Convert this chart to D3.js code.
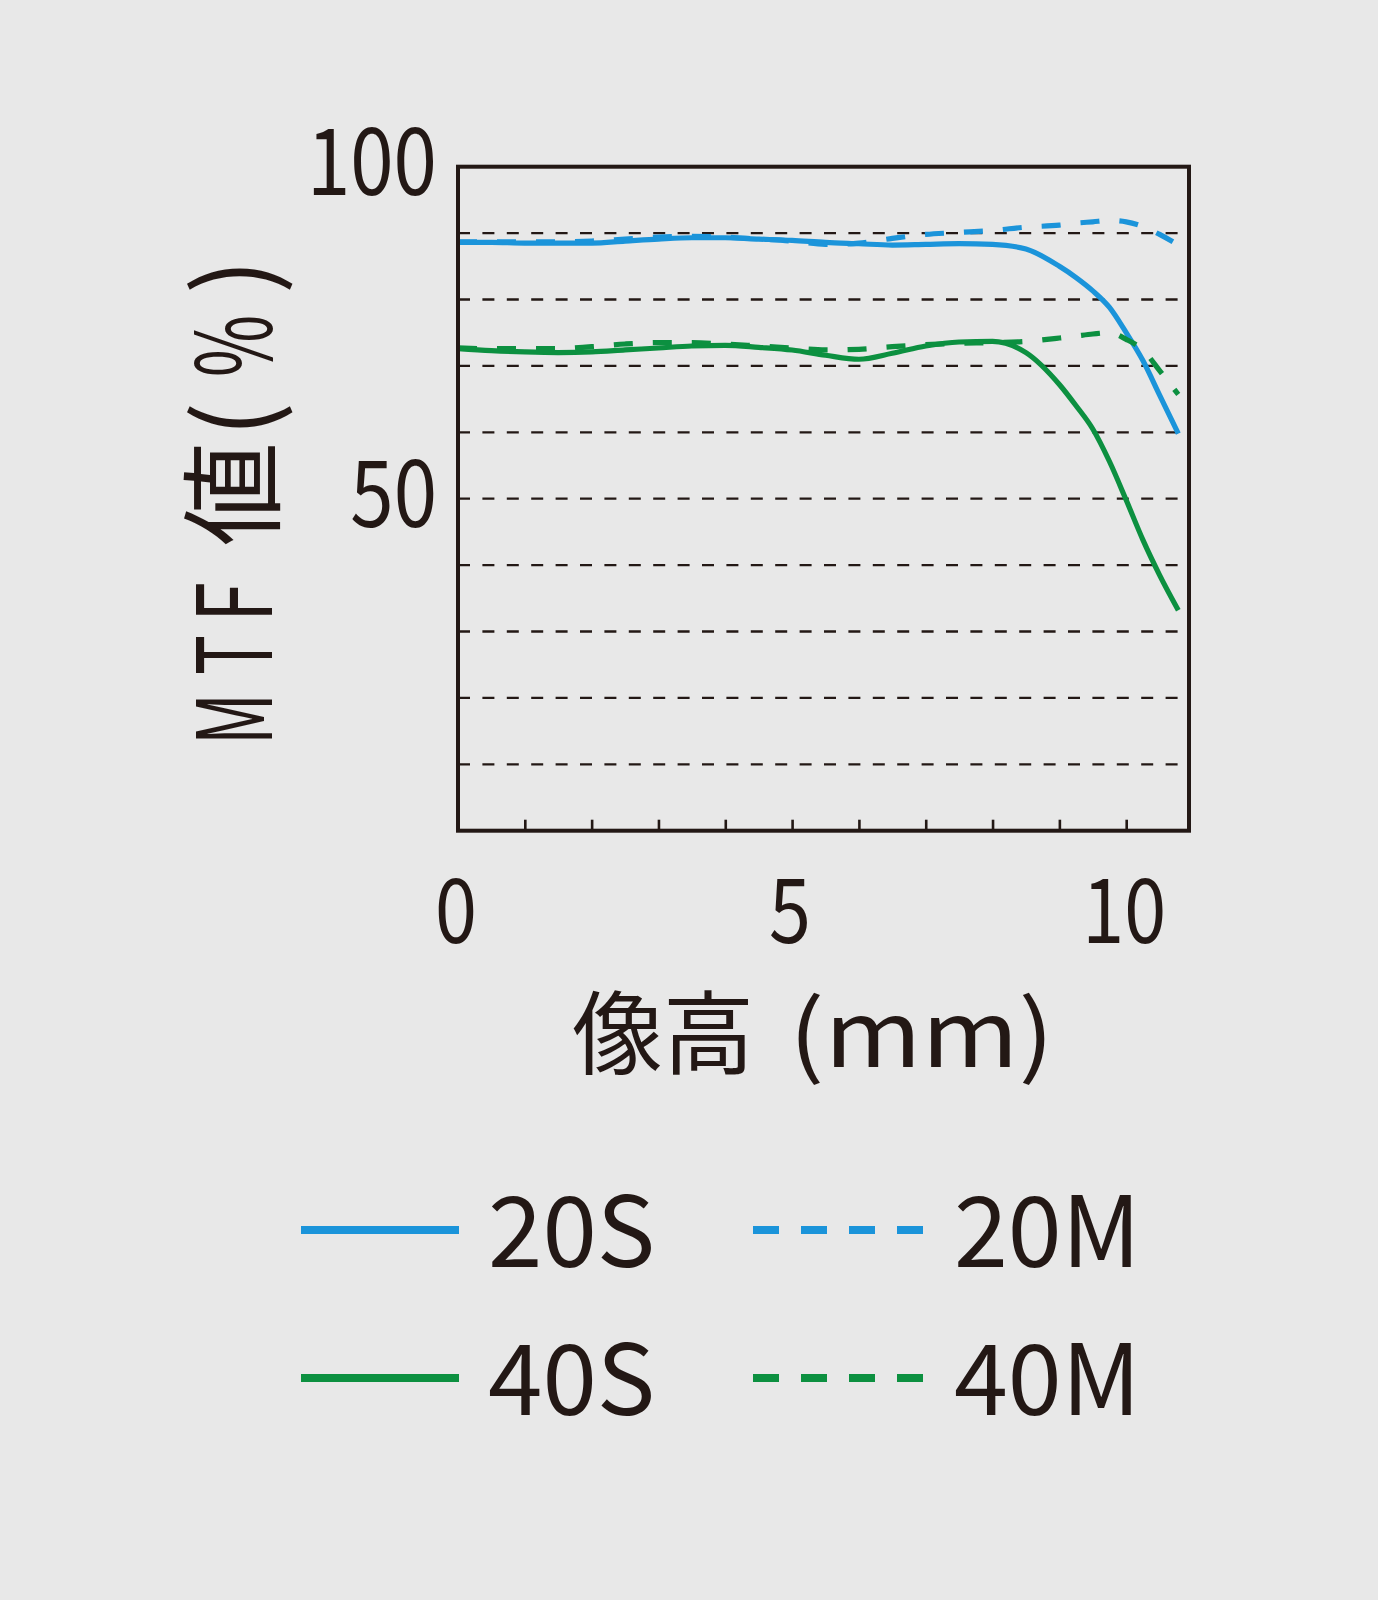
<!DOCTYPE html>
<html><head><meta charset="utf-8">
<script src="https://cdn.jsdelivr.net/npm/d3@7"></script>
<style>
html,body{margin:0;padding:0;background:#e8e8e8;}
svg{display:block;}
text{font-family:"Noto Sans CJK JP","Noto Sans",sans-serif;fill:#231815;}
</style></head><body>
<svg id="c" width="1378" height="1600"></svg>
<script>
// image height (mm)
const imageHeight = [0,0.5,1,1.5,2,2.5,3,3.5,4,4.5,5,5.5,6,6.5,7,7.5,8,8.5,9,9.25,9.5,9.75,10,10.25,10.5,10.78];
// MTF values (%)
const mtf20S = [88.6,88.6,88.5,88.5,88.5,88.8,89.1,89.3,89.3,89.1,88.9,88.6,88.4,88.2,88.3,88.4,88.3,87.6,85.0,83.3,81.3,78.8,75.0,70.8,65.6,59.8];
const mtf20M = [88.7,88.7,88.7,88.7,88.8,89.1,89.4,89.5,89.4,89.1,88.8,88.3,88.5,89.2,89.8,90.1,90.4,90.9,91.2,91.5,91.7,91.9,91.7,91.0,89.8,88.2];
const mtf40S = [72.6,72.3,72.1,72.0,72.1,72.4,72.7,73.0,73.1,72.8,72.4,71.6,71.0,71.9,73.0,73.6,73.7,72.0,67.2,64.0,60.5,55.6,49.8,43.8,38.5,33.2];
const mtf40M = [72.7,72.6,72.6,72.6,72.9,73.3,73.5,73.5,73.3,73.0,72.7,72.4,72.5,72.9,73.2,73.4,73.5,73.7,74.2,74.5,74.8,75.0,74.0,72.4,69.3,65.7];
const seriesNames = ["20S","20M","40S","40M"];
const xTickLabels = [0,5,10];
const xMinorTicks = [1,2,3,4,5,6,7,8,9,10];
const yTickLabels = [50,100];
const gridValues = [10,20,30,40,50,60,70,80,90];
const xAxisTitle = ["像高","(mm)"];
const yAxisTitle = ["M","T","F","値","(","%",")"];

const BLUE = "#1b94da", GREEN = "#0c9040", INK = "#231815";
const series = [
  {name: seriesNames[0], values: mtf20S, color: BLUE, dashed: false},
  {name: seriesNames[1], values: mtf20M, color: BLUE, dashed: true},
  {name: seriesNames[2], values: mtf40S, color: GREEN, dashed: false},
  {name: seriesNames[3], values: mtf40M, color: GREEN, dashed: true}
];

const svg = d3.select("#c");
svg.append("rect").attr("width",1378).attr("height",1600).attr("fill","#e8e8e8");

const x = d3.scaleLinear().domain([0,10.94]).range([458,1189]);
const y = d3.scaleLinear().domain([0,100]).range([830.7,166.7]);

function condense(sel, f){
  sel.each(function(){
    const w = this.getComputedTextLength();
    d3.select(this).attr("textLength", w*f).attr("lengthAdjust","spacingAndGlyphs");
  });
}

// grid
svg.append("g").selectAll("line").data(gridValues).join("line")
  .attr("x1", x(0)).attr("x2", x(10.8))
  .attr("y1", d=>y(d)).attr("y2", d=>y(d))
  .attr("stroke", INK).attr("stroke-width", 2.3).attr("stroke-dasharray","12,12.4");

// minor ticks
const xAxis = d3.axisBottom(x).tickValues(xMinorTicks).tickSize(-11).tickFormat("");
const gx = svg.append("g").attr("transform",`translate(0,${y(0)})`).call(xAxis);
gx.select(".domain").remove();
gx.selectAll(".tick line").attr("stroke",INK).attr("stroke-width",2.6);

// lines
const line = d3.line().x(d=>x(d[0])).y(d=>y(d[1])).curve(d3.curveMonotoneX);
const order = [series[0], series[2], series[1], series[3]];
svg.append("g").selectAll("path").data(order).join("path")
  .attr("d", s => line(imageHeight.map((h,i)=>[h, s.values[i]])))
  .attr("fill","none").attr("stroke", s=>s.color).attr("stroke-width",5.2)
  .attr("stroke-linecap","butt").attr("stroke-linejoin","round")
  .attr("stroke-dasharray", s=> s.dashed ? "19,20" : null);

// frame
svg.append("rect").attr("x",x(0)).attr("y",y(100))
  .attr("width",x(10.94)-x(0)).attr("height",y(0)-y(100))
  .attr("fill","none").attr("stroke",INK).attr("stroke-width",4);

// y tick labels
svg.append("g").selectAll("text").data(yTickLabels).join("text")
  .attr("x",437).attr("y",d=>y(d)+28).attr("text-anchor","end")
  .attr("font-size",93).text(d=>d).call(condense,0.84);

// x tick labels
svg.append("g").selectAll("text").data(xTickLabels).join("text")
  .attr("x",d=>x(d)-2).attr("y",943).attr("text-anchor","middle")
  .attr("font-size",90).text(d=>d).call(condense,0.84);

// x axis title
const xt = svg.append("text").attr("y",1067).attr("font-size",91);
xt.append("tspan").attr("x",572).text(xAxisTitle[0]);
xt.append("tspan").attr("x",789).attr("textLength",265).attr("lengthAdjust","spacingAndGlyphs").text(xAxisTitle[1]);

// y axis title (rotated), per-glyph placement along the text direction
const yPos = [-745,-675,-622,-546,-437,-377,-294];
const yLen = [52,40,40,null,null,62,null];
const yt = svg.append("text").attr("transform","translate(272,0) rotate(-90)").attr("font-size",104);
yAxisTitle.forEach((ch,i)=>{
  const t = yt.append("tspan").attr("x",yPos[i]).attr("y",0).text(ch);
  if (yLen[i]) t.attr("textLength",yLen[i]).attr("lengthAdjust","spacingAndGlyphs");
});

// legend
const legendRows = [[series[0],series[1]],[series[2],series[3]]];
const rowY = [1230, 1378];
const lg = svg.append("g");
legendRows.forEach((row,ri)=>{
  row.forEach((s,ci)=>{
    const x0 = ci===0 ? 301 : 753;
    const x1 = ci===0 ? 459 : 923;
    lg.append("line").attr("x1",x0).attr("x2",x1).attr("y1",rowY[ri]).attr("y2",rowY[ri])
      .attr("stroke",s.color).attr("stroke-width",8)
      .attr("stroke-dasharray", s.dashed ? "26,22" : null);
    lg.append("text").attr("x", ci===0 ? 488 : 954).attr("y", rowY[ri]+37)
      .attr("font-size",98).text(s.name).call(condense, ci===0 ? 1.0 : 0.99);
  });
});
</script>
</body></html>
